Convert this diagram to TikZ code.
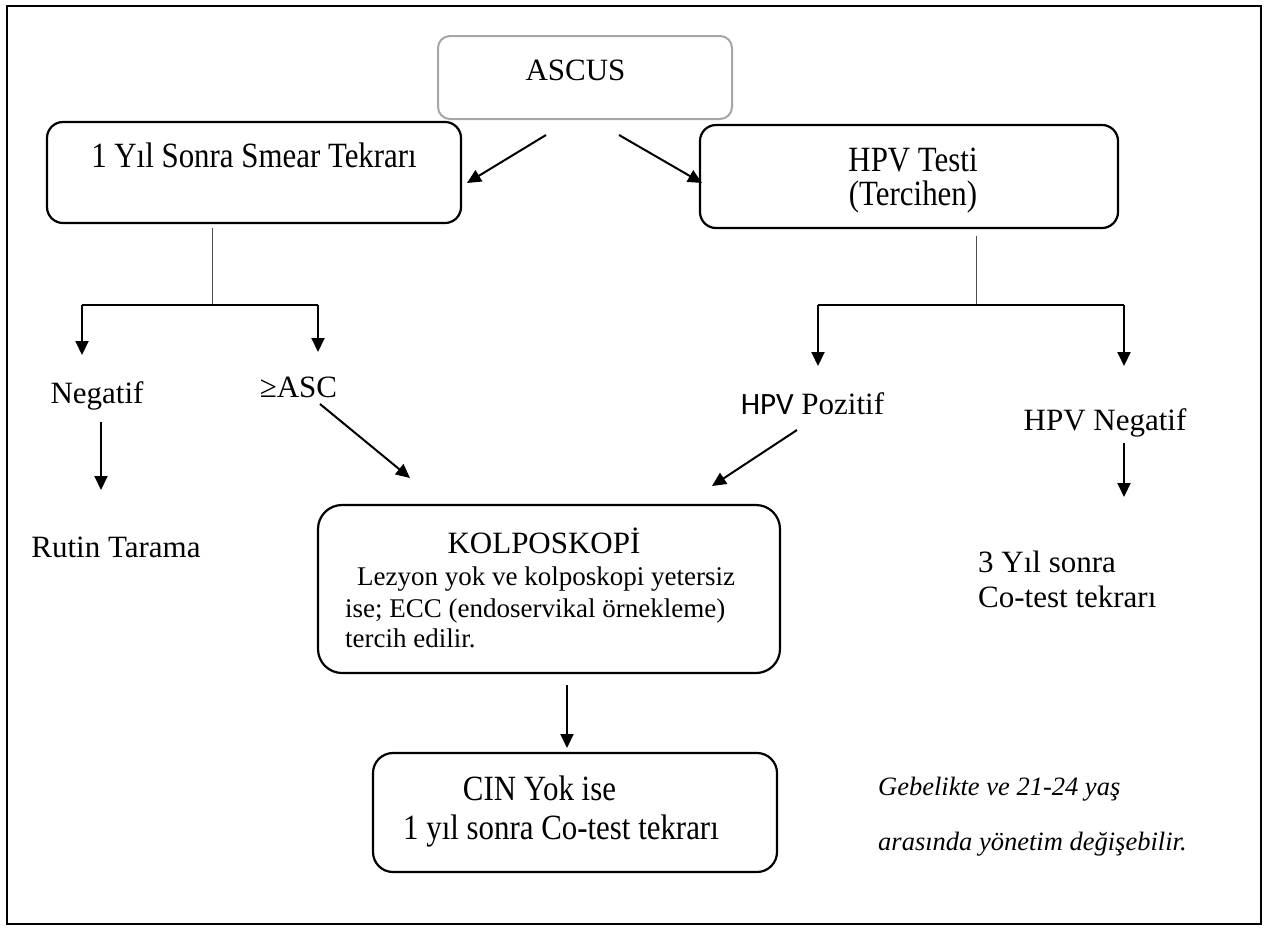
\documentclass[tikz,border=0pt]{standalone}
\usepackage{fontspec}
\setmainfont{Liberation Serif}
\newfontfamily\calibrifont{Carlito}
\newfontfamily\condfont[FakeStretch=0.87]{Liberation Serif}
\usetikzlibrary{arrows.meta}
\begin{document}
\begin{tikzpicture}[x=1pt,y=-1pt,
  box/.style={draw, line width=2.2pt, rounded corners=#1, inner sep=0pt, shape=rectangle},
  box/.default=16pt,
  lbl/.style={anchor=base, inner sep=0pt, font=\fontsize{31}{31}\selectfont},
  cond/.style={anchor=base, inner sep=0pt, font=\condfont\fontsize{35.5}{35.5}\selectfont},
  lblw/.style={anchor=base west, inner sep=0pt, font=\fontsize{31}{31}\selectfont},
  small/.style={anchor=base west, inner sep=0pt, font=\fontsize{27}{27}\selectfont},
  note/.style={anchor=base west, inner sep=0pt, font=\fontsize{26.5}{26.5}\selectfont\itshape},
  arr/.style={line width=2pt, -{Triangle[length=14pt,width=13pt]}},
  stem/.style={line width=1pt, draw=black!70},
  bar/.style={line width=1.6pt}]
\useasboundingbox (0,0) rectangle (1268,930);
\draw[line width=2pt] (7,6) rectangle (1261,924);

% boxes
\node[box=12pt, draw=black!35, line width=2pt, minimum width=294pt, minimum height=83pt] (ascus) at (585,77.5) {};
\node[box, minimum width=414pt, minimum height=101pt] (smear) at (254,172.5) {};
\node[box, minimum width=418pt, minimum height=103pt] (hpv) at (909,176.5) {};
\node[box=24pt, minimum width=462pt, minimum height=168pt] (kolp) at (549,589) {};
\node[box=20pt, minimum width=404pt, minimum height=119pt] (cin) at (575,812.5) {};

% texts
\node[lbl] (tascus) at (575.5,80) {ASCUS};
\node[cond] (tsmear) at (254,167) {1 Yıl Sonra Smear Tekrarı};
\node[cond] (thpv1) at (913,171) {HPV Testi};
\node[cond] (thpv2) at (913,205) {(Tercihen)};
\node[lbl] (tkolp) at (544,553) {KOLPOSKOPİ};
\node[small] (tk1) at (357,585) {Lezyon yok ve kolposkopi yetersiz};
\node[small] (tk2) at (345,617) {ise; ECC (endoservikal örnekleme)};
\node[small] (tk3) at (345,647) {tercih edilir.};
\node[cond] (tcin1) at (539.5,800) {CIN Yok ise};
\node[cond] (tcin2) at (561,839) {1 yıl sonra Co-test tekrarı};
\node[lbl] (neg) at (97,403) {Negatif};
\node[lbl] (asc) at (298.5,397) {≥ASC};
\node[lbl] (rutin) at (116,557) {Rutin Tarama};
\node[lbl] (hpvpos) at (812.5,414) {{\calibrifont HPV} Pozitif};
\node[lbl] (hpvneg) at (1105,430) {HPV Negatif};
\node[lblw] (tri1) at (978,572) {3 Yıl sonra};
\node[lblw] (tri2) at (978,607) {Co-test tekrarı};
\node[note] (n1) at (878,795) {Gebelikte ve 21-24 yaş};
\node[note] (n2) at (878,850) {arasında yönetim değişebilir.};

% coordinates
\coordinate (a1s) at (546,135); \coordinate (a1e) at (467,183);
\coordinate (a2s) at (619,135); \coordinate (a2e) at (702,183);
\coordinate (ls) at (212,228); \coordinate (lj) at (212,305);
\coordinate (ll) at (82,305); \coordinate (lr) at (318,305);
\coordinate (lle) at (82,355); \coordinate (lre) at (318,352);
\coordinate (ns) at (101,422); \coordinate (ne) at (101,490);
\coordinate (as) at (320,404); \coordinate (ae) at (410,478);
\coordinate (rs) at (976,236); \coordinate (rj) at (976,305);
\coordinate (rl) at (818,305); \coordinate (rr) at (1124,305);
\coordinate (rle) at (818,366); \coordinate (rre) at (1124,366);
\coordinate (ps) at (797,430); \coordinate (pe) at (712,486);
\coordinate (hs) at (1124,443); \coordinate (he) at (1124,497);
\coordinate (ks) at (567,685); \coordinate (ke) at (567,748);

% connectors
\draw[arr] (a1s) -- (a1e);
\draw[arr] (a2s) -- (a2e);
\draw[stem] (ls) -- (lj);
\draw[bar] (ll) -- (lr);
\draw[arr] (ll) -- (lle);
\draw[arr] (lr) -- (lre);
\draw[arr] (ns) -- (ne);
\draw[arr] (as) -- (ae);
\draw[stem] (rs) -- (rj);
\draw[bar] (rl) -- (rr);
\draw[arr] (rl) -- (rle);
\draw[arr] (rr) -- (rre);
\draw[arr] (ps) -- (pe);
\draw[arr] (hs) -- (he);
\draw[arr] (ks) -- (ke);
\end{tikzpicture}
\end{document}
